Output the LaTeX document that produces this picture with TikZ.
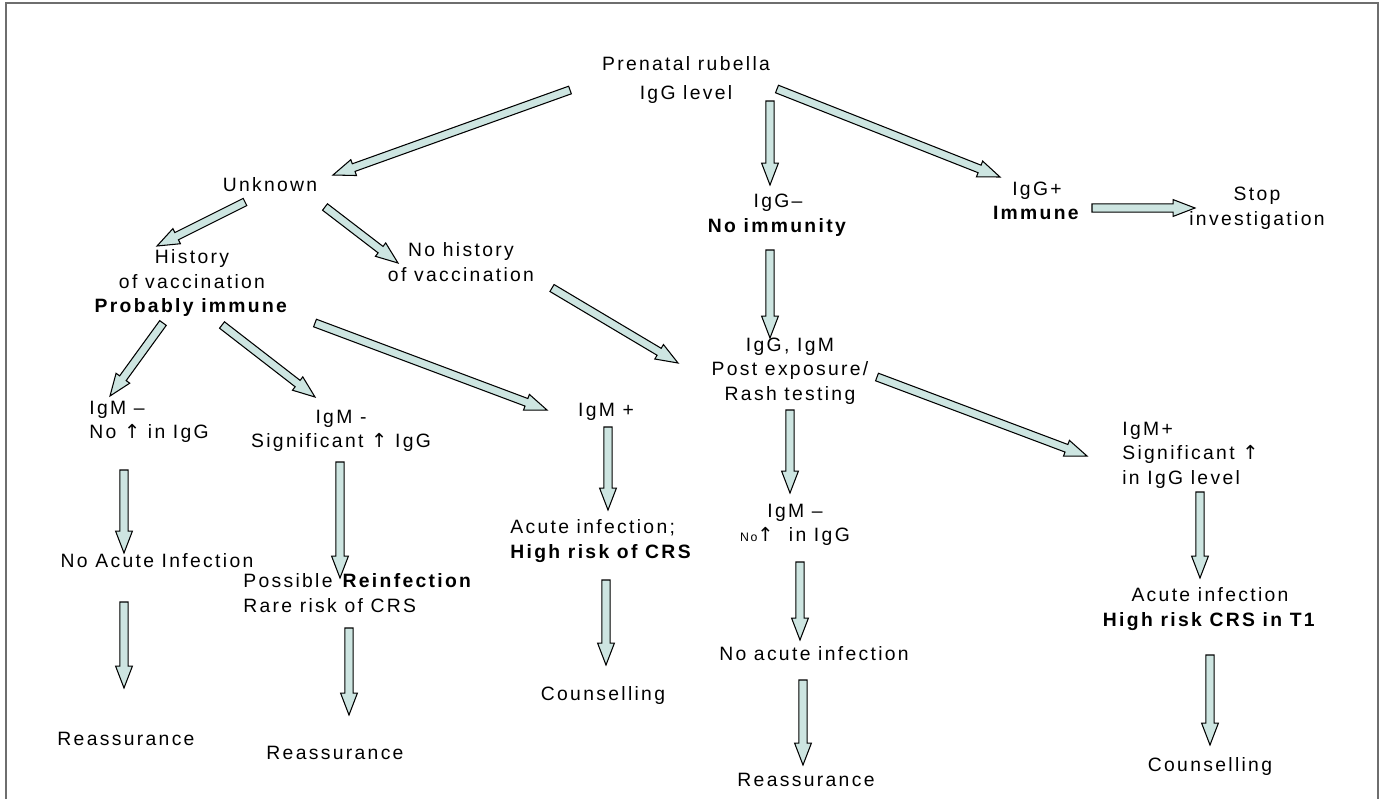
\documentclass[tikz,border=0pt]{standalone}
\usepackage{fontspec}
\setmainfont{Liberation Sans}[LetterSpace=12]
\newfontfamily\arrowfont{DejaVu Sans}
\usepackage{tikz}
\usetikzlibrary{calc}
\definecolor{arrowfill}{RGB}{205,229,225}
\definecolor{framegray}{RGB}{110,110,110}

% rising arrow sign in the labels
\newcommand{\uparr}{{\arrowfont\addfontfeatures{LetterSpace=0}↑}}

% block arrow from tail #1 to tip #2
\newcommand{\blockarrow}[2]{%
  \coordinate (bahead) at ($(#2)!12.5pt!(#1)$);
  \filldraw[fill=arrowfill, draw=black, line width=0.6pt]
    ($(#1)!2.3pt!90:(#2)$) -- ($(bahead)!2.3pt!90:(#2)$) -- ($(bahead)!4.8pt!90:(#2)$)
    -- (#2) -- ($(bahead)!4.8pt!-90:(#2)$) -- ($(bahead)!2.3pt!-90:(#2)$)
    -- ($(#1)!2.3pt!-90:(#2)$) -- cycle;}

\begin{document}
\begin{tikzpicture}[x=0.02cm, y=-0.02cm,
    txt/.style={inner sep=0pt, align=center, font=\fontsize{11}{14}\selectfont},
    txtl/.style={txt, align=left, anchor=west}]
    % Frame
    \useasboundingbox (0,0) rectangle (1384,799);
    \draw[framegray, line width=0.8pt] (6,799) -- (6,3) -- (1378,3) -- (1378,799);

    % Top level
    \node[txt, font=\fontsize{11}{16}\selectfont] (top) at (686,80) {Prenatal rubella\\IgG level};
    \node[txt] (unk) at (270,185) {Unknown};
    \node[txt] (igneg) at (778,215) {IgG–\\\textbf{No immunity}};
    \node[txt] (igpos) at (1037,201) {IgG+\\\textbf{Immune}};
    \node[txt] (stop) at (1257,208) {Stop\\investigation};

    % Second level
    \node[txt] (hist) at (192,283) {History\\of vaccination\\\textbf{Probably immune}};
    \node[txt] (nohist) at (461,262) {No history\\of vaccination};
    \node[txt] (igboth) at (790,371) {IgG, IgM\\Post exposure/\\Rash testing};

    % Test results
    \node[txtl] (igml) at (89,422) {IgM –\\No \uparr{} in IgG};
    \node[txt] (igms) at (341,431) {IgM -\\Significant \uparr{} IgG};
    \node[txt] (igmp) at (606,412) {IgM +};
    \node[txtl] (igmsig) at (1122,455) {IgM+\\Significant \uparr\\in IgG level};
    \node[txt] (igmm) at (795,525) {IgM –\\{\fontsize{7}{8}\selectfont No}\uparr\ \ in IgG};

    % Outcomes
    \node[txt] (noacute) at (157,561) {No Acute Infection};
    \node[txtl] (possible) at (243,593) {Possible \textbf{Reinfection}\\Rare risk of CRS};
    \node[txtl] (acute1) at (510,541) {Acute infection;\\\textbf{High risk of CRS}};
    \node[txt] (noacute2) at (814,654) {No acute infection};
    \node[txt] (acute2) at (1210,609) {Acute infection\\\textbf{High risk CRS in T1}};

    % Actions
    \node[txt] (reas1) at (126,739) {Reassurance};
    \node[txt] (reas2) at (335,753) {Reassurance};
    \node[txt] (couns1) at (603,695) {Counselling};
    \node[txt] (reas3) at (806,780) {Reassurance};
    \node[txt] (couns2) at (1210,766) {Counselling};

    % Arrows from the top
    \coordinate (t1) at (570,90);   \coordinate (h1) at (333,175);   \blockarrow{t1}{h1}
    \coordinate (t2) at (770,101);  \coordinate (h2) at (770,185);   \blockarrow{t2}{h2}
    \coordinate (t3) at (777,89);   \coordinate (h3) at (1000,177);  \blockarrow{t3}{h3}
    \coordinate (t4) at (1092,208); \coordinate (h4) at (1195,208);  \blockarrow{t4}{h4}

    % Arrows from unknown
    \coordinate (t5) at (245,202);  \coordinate (h5) at (157,246);   \blockarrow{t5}{h5}
    \coordinate (t6) at (325,207);  \coordinate (h6) at (398,263);   \blockarrow{t6}{h6}
    \coordinate (t7) at (770,250);  \coordinate (h7) at (770,338);   \blockarrow{t7}{h7}
    \coordinate (t8) at (552,288);  \coordinate (h8) at (678,363);   \blockarrow{t8}{h8}

    % Arrows from history
    \coordinate (t9) at (163,323);  \coordinate (h9) at (110,396);   \blockarrow{t9}{h9}
    \coordinate (t10) at (222,325); \coordinate (h10) at (315,397);  \blockarrow{t10}{h10}
    \coordinate (t11) at (315,323); \coordinate (h11) at (547,410);  \blockarrow{t11}{h11}
    \coordinate (t12) at (877,377); \coordinate (h12) at (1087,456); \blockarrow{t12}{h12}

    % Downward arrows
    \coordinate (t13) at (608,427); \coordinate (h13) at (608,510);  \blockarrow{t13}{h13}
    \coordinate (t14) at (790,410); \coordinate (h14) at (790,493);  \blockarrow{t14}{h14}
    \coordinate (t15) at (124,470); \coordinate (h15) at (124,553);  \blockarrow{t15}{h15}
    \coordinate (t16) at (124,602); \coordinate (h16) at (124,688);  \blockarrow{t16}{h16}
    \coordinate (t17) at (340,462); \coordinate (h17) at (340,578);  \blockarrow{t17}{h17}
    \coordinate (t18) at (349,628); \coordinate (h18) at (349,715);  \blockarrow{t18}{h18}
    \coordinate (t19) at (606,580); \coordinate (h19) at (606,665);  \blockarrow{t19}{h19}
    \coordinate (t20) at (800,562); \coordinate (h20) at (800,640);  \blockarrow{t20}{h20}
    \coordinate (t21) at (803,680); \coordinate (h21) at (803,765);  \blockarrow{t21}{h21}
    \coordinate (t22) at (1200,492); \coordinate (h22) at (1200,578); \blockarrow{t22}{h22}
    \coordinate (t23) at (1210,655); \coordinate (h23) at (1210,745); \blockarrow{t23}{h23}
\end{tikzpicture}
\end{document}
